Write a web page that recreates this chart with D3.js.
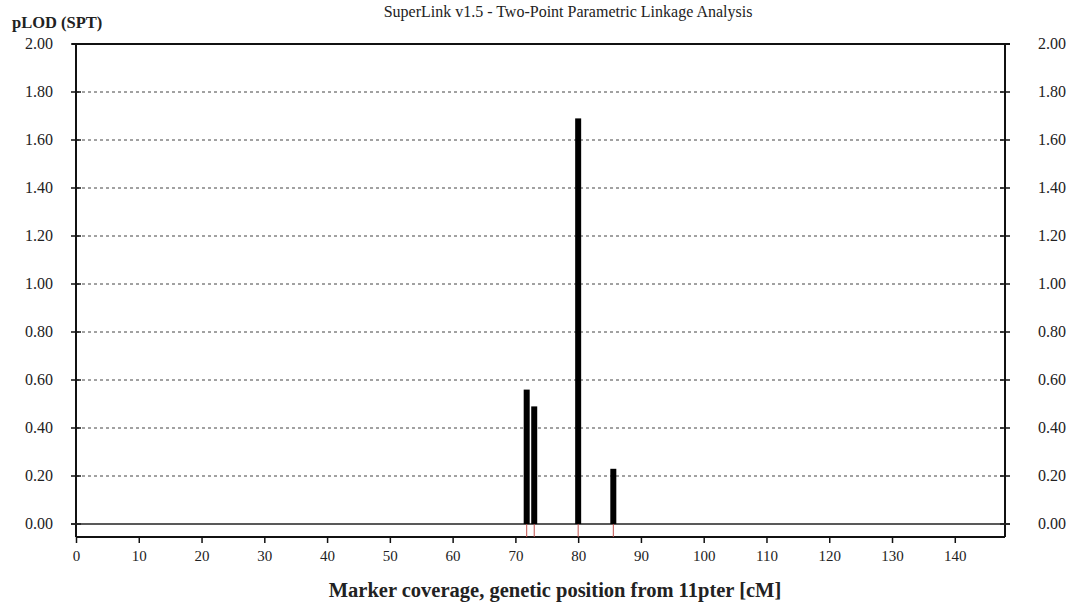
<!DOCTYPE html>
<html>
<head>
<meta charset="utf-8">
<script src="https://cdn.jsdelivr.net/npm/d3@7"></script>
<style>
  body { margin: 0; background: #fff; }
  text { font-family: "Liberation Serif", "Times New Roman", serif; fill: #222; }
</style>
</head>
<body>
<svg id="chart" width="1076" height="610"></svg>
<script>
// marker positions (cM) and pLOD values
var positions = [71.8, 73.0, 80.0, 85.6];
var lodValues = [0.56, 0.49, 1.69, 0.23];
var yTicks = [0, 0.2, 0.4, 0.6, 0.8, 1.0, 1.2, 1.4, 1.6, 1.8, 2.0];
var xTicks = [0, 10, 20, 30, 40, 50, 60, 70, 80, 90, 100, 110, 120, 130, 140];

var svg = d3.select("#chart");
var leftX = 76, rightX = 1005, topY = 44, zeroY = 524, axisY = 537;

var x = d3.scaleLinear().domain([0, 148]).range([leftX, rightX]);
var y = d3.scaleLinear().domain([0, 2]).range([zeroY, topY]);

// dashed grid
svg.append("g").selectAll("line")
    .data(yTicks.filter(function(d){ return d > 0 && d < 2; }))
    .enter().append("line")
    .attr("x1", leftX).attr("x2", rightX)
    .attr("y1", d => y(d)).attr("y2", d => y(d))
    .attr("stroke", "#444").attr("stroke-width", 1)
    .attr("stroke-dasharray", "3,3");

// left/right y ticks (cross the axis)
[leftX, rightX].forEach(function(ax){
    svg.append("g").selectAll("line")
        .data(yTicks)
        .enter().append("line")
        .attr("x1", ax - 5).attr("x2", ax + 5)
        .attr("y1", d => y(d)).attr("y2", d => y(d))
        .attr("stroke", "#111").attr("stroke-width", 1.5);
});

// frame
svg.append("line").attr("x1", leftX - 4).attr("x2", rightX + 5)
    .attr("y1", topY).attr("y2", topY).attr("stroke", "#111").attr("stroke-width", 2);
svg.append("line").attr("x1", leftX).attr("x2", leftX)
    .attr("y1", topY).attr("y2", axisY).attr("stroke", "#111").attr("stroke-width", 2);
svg.append("line").attr("x1", rightX).attr("x2", rightX)
    .attr("y1", topY).attr("y2", axisY).attr("stroke", "#111").attr("stroke-width", 2);
svg.append("line").attr("x1", leftX - 5).attr("x2", rightX + 5)
    .attr("y1", zeroY).attr("y2", zeroY).attr("stroke", "#222").attr("stroke-width", 1.5);

// x axis
var xAxis = d3.axisBottom(x).tickValues(xTicks).tickSize(6).tickPadding(7).tickFormat(d3.format("d"));
var gx = svg.append("g").attr("transform", "translate(0," + axisY + ")").call(xAxis);
gx.select(".domain").attr("d", "M" + leftX + ",0H" + rightX).attr("stroke", "#111").attr("stroke-width", 2);
gx.selectAll(".tick line").attr("stroke", "#111").attr("stroke-width", 1.5);
gx.selectAll(".tick text").style("font-family", "Liberation Serif").style("font-size", "15px").attr("fill", "#222");

// red marker ticks between zero line and x axis
svg.append("g").selectAll("line")
    .data(positions)
    .enter().append("line")
    .attr("x1", d => x(d)).attr("x2", d => x(d))
    .attr("y1", zeroY).attr("y2", axisY)
    .attr("stroke", "#c0504d").attr("stroke-width", 1);

// bars
svg.append("g").selectAll("rect")
    .data(positions)
    .enter().append("rect")
    .attr("x", d => x(d) - 3)
    .attr("width", 6)
    .attr("y", (d, i) => y(lodValues[i]))
    .attr("height", (d, i) => y(0) - y(lodValues[i]))
    .attr("fill", "#000");

// y labels on both sides
svg.append("g").selectAll("text")
    .data(yTicks).enter().append("text")
    .attr("x", 53).attr("y", d => y(d) + 5)
    .attr("text-anchor", "end").style("font-size", "16px")
    .text(d => d3.format(".2f")(d));
svg.append("g").selectAll("text")
    .data(yTicks).enter().append("text")
    .attr("x", 1038).attr("y", d => y(d) + 5)
    .attr("text-anchor", "start").style("font-size", "16px")
    .text(d => d3.format(".2f")(d));

// titles
svg.append("text").attr("x", 12).attr("y", 28)
    .style("font-size", "16.5px").style("font-weight", "bold")
    .text("pLOD (SPT)");
svg.append("text").attr("x", 568).attr("y", 17).attr("text-anchor", "middle")
    .style("font-size", "16px")
    .text("SuperLink v1.5 - Two-Point Parametric Linkage Analysis");
svg.append("text").attr("x", 555).attr("y", 597).attr("text-anchor", "middle")
    .style("font-size", "20.5px").style("font-weight", "bold")
    .text("Marker coverage, genetic position from 11pter [cM]");
</script>
</body>
</html>
